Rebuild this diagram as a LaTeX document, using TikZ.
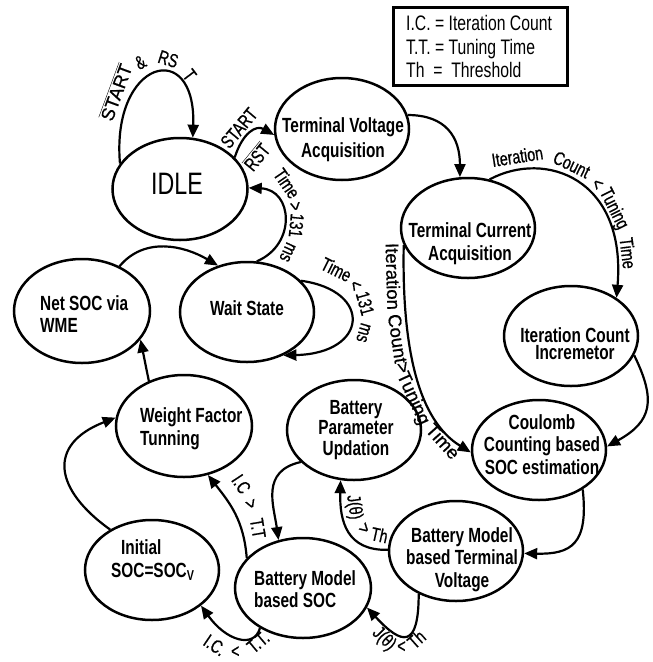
\documentclass[tikz,border=0pt]{standalone}
\usepackage{fontspec}
\setmainfont{Liberation Sans}
\newfontfamily\narf{Liberation Sans}[FakeStretch=0.75]
\newfontfamily\narlbl{Liberation Sans}[FakeStretch=0.75,FakeBold=0.7]
\newfontfamily\widelbl{Liberation Sans}[FakeBold=0.7]
\usetikzlibrary{shapes.geometric,arrows.meta}
\newcommand\nodefont{\narf\bfseries\fontsize{20.5}{22.5}\selectfont}
\newcommand\idlefont{\narf\fontsize{31}{34}\selectfont}
\newcommand\lblfont{\narlbl\fontsize{19}{20}\selectfont}
\newcommand\lblwide{\widelbl\fontsize{18.5}{20}\selectfont}
\newcommand\legfont{\narf\fontsize{21}{23.5}\selectfont}
\tikzset{
  st/.style={draw, ellipse, line width=2.5pt, inner sep=0pt, minimum width=134pt, minimum height=101pt},
  txt/.style={inner sep=0pt, font=\nodefont, align=center},
  ar/.style={line width=2.2pt, -{Triangle[length=13pt,width=11pt]}},
  lab/.style={sloped, allow upside down, anchor=base, inner sep=0pt, font=\lblfont}
}
\begin{document}
\begin{tikzpicture}[x=1pt,y=-1pt]
\useasboundingbox (0,0) rectangle (653,662);

% legend
\node[draw, line width=2.3pt, minimum width=174pt, minimum height=78pt, inner sep=0pt] (legend) at (480.5,46.5) {};
\node[anchor=west, inner sep=0pt, font=\legfont, align=left] (legendtext) at (406,46.5) {I.C. = Iteration Count\\T.T. = Tuning Time\\Th\ \ =\ \ Threshold};

% states
\node[st, minimum width=135pt, minimum height=102pt] (idle) at (180,189) {};
\node[txt, font=\idlefont] (idlet) at (177,184) {IDLE};
\node[st, minimum height=102pt] (tva) at (342,129) {};
\node[txt, font=\nodefont\fontsize{20.5}{25}\selectfont] (tvat) at (343,139.5) {Terminal Voltage\\Acquisition};
\node[st, minimum height=100pt] (tca) at (468,228) {};
\node[txt, font=\nodefont\fontsize{20.5}{23}\selectfont] (tcat) at (470,243.5) {Terminal Current\\Acquisition};
\node[st, minimum height=100pt] (ici) at (571,336) {};
\node[txt, font=\nodefont\fontsize{20.5}{17}\selectfont] (icit) at (575,343.5) {Iteration Count\\Incremetor};
\node[st, minimum height=100pt] (coul) at (539,450) {};
\node[txt] (coult) at (542,444.5) {Coulomb\\Counting based\\SOC estimation};
\node[st, minimum height=100pt] (bpu) at (354,430) {};
\node[txt, font=\nodefont\fontsize{20.5}{20.5}\selectfont] (bput) at (356,429.6) {Battery\\Parameter\\Updation};
\node[st, minimum height=100pt] (bmtv) at (456,551) {};
\node[txt] (bmtvt) at (462,559.6) {Battery Model\\based Terminal\\Voltage};
\node[st, minimum width=136pt, minimum height=100pt] (bmsoc) at (303,588) {};
\node[txt, align=left, anchor=west] (bmsoct) at (254,589) {Battery Model\\based SOC};
\node[st, minimum height=100pt] (init) at (152,570) {};
\node[txt, align=left, anchor=west] (initt) at (111,560) {\hspace*{10pt}Initial\\SOC=SOC\textsubscript{V}};
\node[st, minimum width=136pt, minimum height=102pt] (wft) at (184,426) {};
\node[txt, align=left, anchor=west] (wftt) at (140,428.6) {Weight Factor\\Tunning};
\node[st, minimum width=136pt, minimum height=104pt] (net) at (82,311) {};
\node[txt, align=left, anchor=west] (nett) at (40,314) {Net SOC via\\WME};
\node[st, minimum height=100pt] (wait) at (247,312) {};
\node[txt] (waitt) at (247,308) {Wait State};

% connectors
\draw[ar] (idle.157) .. controls +(-9,-104) and +(3.5,-101) .. (idle.76);
\draw[ar] (idle.30) .. controls +(8,-25) and +(-18,-10) .. (tva.185);
\draw[ar] (tva.12) .. controls +(38,0) and +(0,-40) .. (tca.99);
\draw[ar] (tca.66) .. controls +(56,-30) and +(10,-119) .. (ici.40);
\draw[ar] (tca.195) .. controls +(-2,105) and +(-52,-32) .. (coul.182);
\draw[ar] (ici.343) .. controls +(22,45) and +(45,-25) .. (coul.3);
\draw[ar] (coul.318) .. controls +(6,55) and +(47,1) .. (bmtv.358);
\draw[ar] (bmtv.179) .. controls +(-41,1) and +(-1,41) .. (bpu.255);
\draw[ar] (bmtv.229) .. controls +(0,55) and +(35,38) .. (bmsoc.343);
\draw[ar] (bpu.211) .. controls +(-40,9) and +(-5,-35) .. (bmsoc.117);
\draw[ar] (bmsoc.152) .. controls +(-3,-38) and +(22,28) .. (wft.296);
\draw[ar] (bmsoc.223) .. controls +(-6,21) and +(25,35) .. (init.324);
\draw[ar] (init.136) .. controls +(-56,-40) and +(-69,27) .. (wft.173);
\draw[ar] (wft.128) -- (net.334);
\draw[ar] (net.50) .. controls +(25,-30) and +(-34,-20) .. (wait.122);
\draw[ar] (wait.79) .. controls +(40,-17) and +(44,2) .. (idle.1);
\draw[ar] (wait.30) .. controls +(72,10) and +(85,-2) .. (wait.310);

% connector labels (words set along invisible baseline curves)
\path (118,126) .. controls (115,70) and (165,40) .. (190,88)
  node[lab, font=\lblwide, pos=.21] (l1a) {$\overline{\mbox{START}}$}
  node[lab, pos=.5] (l1b) {\&}
  node[lab, pos=.735] (l1c) {RS}
  node[lab, pos=.93] (l1d) {T};
\path (231,153) .. controls (238,138) and (248,125) .. (263,116)
  node[lab, pos=.5] (l2) {START};
\path (252,177) .. controls (258,166) and (265,156) .. (277,148)
  node[lab, pos=.5] (l3) {$\overline{\mbox{RST}}$};
\path (270,176) .. controls (295,192) and (298,235) .. (272,268)
  node[lab, pos=.181] (l4a) {Time}
  node[lab, pos=.416] (l4b) {>}
  node[lab, pos=.59] (l4c) {131}
  node[lab, pos=.826] (l4d) {ms};
\path (318,270) .. controls (368,282) and (368,330) .. (348,350)
  node[lab, pos=.115] (l5a) {Time}
  node[lab, pos=.305] (l5b) {<}
  node[lab, pos=.481] (l5c) {131}
  node[lab, pos=.757] (l5d) {ms};
\path (491,172) .. controls (547,143) and (630,176) .. (622,290)
  node[lab, pos=.154] (l6a) {Iteration}
  node[lab, pos=.43] (l6b) {Count}
  node[lab, pos=.583] (l6c) {<}
  node[lab, pos=.712] (l6d) {Tuning}
  node[lab, pos=.885] (l6e) {Time};
\path (386,240) .. controls (386,350) and (395,410) .. (458,465)
  node[lab, font=\lblwide, pos=.117] (l7a) {Iteration}
  node[lab, font=\lblwide, pos=.352] (l7b) {Count}
  node[lab, font=\lblwide, pos=.481] (l7c) {>}
  node[lab, font=\lblwide, pos=.635] (l7d) {Tuning}
  node[lab, font=\lblwide, pos=.884] (l7e) {Time};
\path (348,492) .. controls (347,525) and (360,543) .. (392,543)
  node[lab, pos=.176] (l8a) {J(θ)}
  node[lab, pos=.56] (l8b) {>}
  node[lab, pos=.84] (l8c) {Th};
\path (370,628) .. controls (385,658) and (415,663) .. (433,628)
  node[lab, pos=.195] (l9a) {J(θ)}
  node[lab, pos=.515] (l9b) {<}
  node[lab, pos=.8] (l9c) {Th};
\path (228,478) .. controls (240,490) and (252,515) .. (253,545)
  node[lab, pos=.22] (l10a) {I.C}
  node[lab, pos=.52] (l10b) {>}
  node[lab, pos=.82] (l10c) {T.T};
\path (198,635) .. controls (212,665) and (258,667) .. (276,629)
  node[lab, pos=.22] (l11a) {I.C.}
  node[lab, pos=.5] (l11b) {<}
  node[lab, pos=.8] (l11c) {T.T.};
\end{tikzpicture}
\end{document}
